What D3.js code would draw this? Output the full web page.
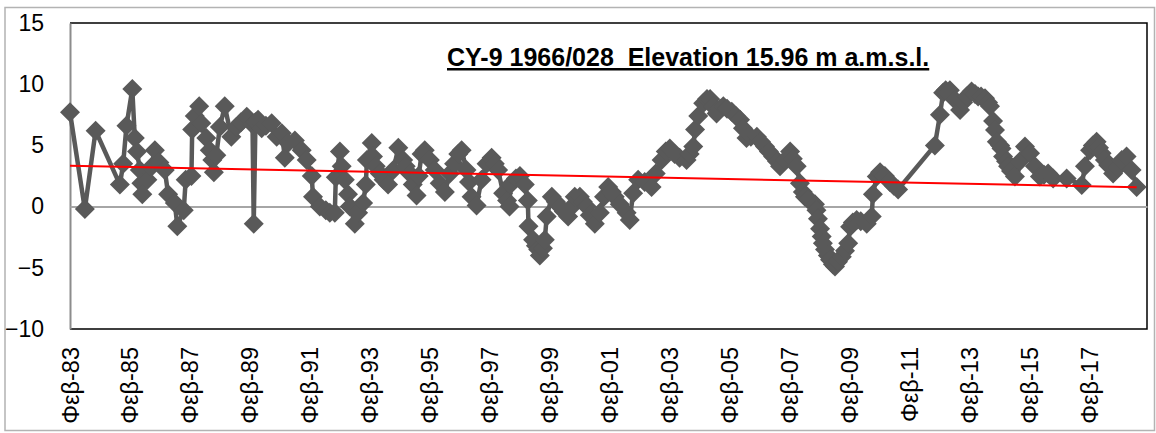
<!DOCTYPE html>
<html>
<head>
<meta charset="utf-8">
<script src="https://cdn.jsdelivr.net/npm/d3@7"></script>
<style>
  html, body { margin: 0; padding: 0; background: #fff; }
  svg { display: block; }
</style>
</head>
<body>
<svg id="chart" width="1156" height="433"></svg>
<script>
// water level readings (m)
const dates = [
  "1983-02-01","1983-08-01","1983-12-10","1984-10-01","1984-11-10","1984-12-20","1985-03-01","1985-04-01","1985-04-28","1985-06-01",
  "1985-06-20","1985-07-01","1985-09-01","1985-10-12","1985-12-01","1986-01-25","1986-04-01","1986-05-12","1986-08-01","1986-09-01",
  "1986-11-18","1986-12-12","1987-02-20","1987-03-01","1987-04-01","1987-05-25","1987-06-20","1987-08-20","1987-10-01","1987-11-01",
  "1987-11-20","1987-12-20","1988-02-01","1988-04-01","1988-06-20","1988-08-20","1988-10-15","1988-12-25","1989-03-05","1989-03-20",
  "1989-04-10","1989-05-12","1989-06-25","1989-08-15","1989-10-25","1989-12-25","1990-02-25","1990-04-03","1990-05-12","1990-08-03",
  "1990-10-25","1990-12-25","1991-02-25","1991-03-12","1991-06-03","1991-08-15","1991-10-03","1991-12-03","1991-12-15","1992-02-03",
  "1992-02-25","1992-04-03","1992-05-12","1992-06-03","1992-08-03","1992-09-12","1992-11-12","1992-12-15","1992-12-28","1993-02-25",
  "1993-03-12","1993-04-15","1993-06-03","1993-07-20","1993-09-12","1993-11-15","1994-01-15","1994-03-15","1994-04-15","1994-06-03",
  "1994-07-10","1994-08-25","1994-09-20","1994-10-25","1994-12-03","1995-02-03","1995-04-03","1995-06-03","1995-08-05","1995-10-05",
  "1995-11-25","1996-01-15","1996-02-25","1996-04-25","1996-05-25","1996-06-25","1996-08-25","1996-10-25","1996-12-25","1997-02-25",
  "1997-04-05","1997-05-15","1997-07-15","1997-09-01","1997-10-01","1997-10-12","1997-12-18","1998-02-05","1998-04-05","1998-05-12",
  "1998-05-20","1998-07-15","1998-08-18","1998-09-15","1998-10-05","1998-11-12","1998-12-05","1998-12-28","1999-02-28","1999-04-18",
  "1999-06-05","1999-07-25","1999-09-15","1999-11-01","1999-12-05","2000-02-05","2000-03-12","2000-04-28","2000-06-05","2000-08-05",
  "2000-10-05","2000-11-25","2001-01-15","2001-03-01","2001-04-05","2001-06-05","2001-08-28","2001-10-05","2001-11-15","2002-01-15",
  "2002-04-05","2002-06-28","2002-08-18","2002-10-28","2002-12-18","2003-02-05","2003-04-05","2003-06-05","2003-08-28","2003-10-05",
  "2003-11-18","2003-12-10","2004-01-18","2004-03-18","2004-05-03","2004-06-10","2004-07-15","2004-08-28","2004-10-10","2004-11-18",
  "2005-01-03","2005-03-01","2005-04-20","2005-06-10","2005-07-15","2005-08-28","2005-10-20","2006-01-01","2006-02-20","2006-04-10",
  "2006-05-28","2006-07-18","2006-09-03","2006-10-10","2006-12-10","2007-02-10","2007-03-15","2007-05-01","2007-06-10","2007-07-15",
  "2007-08-10","2007-09-15","2007-11-01","2007-12-10","2007-12-28","2008-01-15","2008-02-10","2008-03-01","2008-03-15","2008-04-10",
  "2008-05-15","2008-06-10","2008-07-15","2008-08-10","2008-09-15","2008-11-01","2008-12-10","2009-01-18","2009-02-10","2009-03-15",
  "2009-05-01","2009-06-20","2009-09-01","2009-11-01","2009-11-15","2010-01-01","2010-02-10","2010-04-10","2010-06-10","2010-07-28",
  "2010-09-18","2011-12-10","2012-02-10","2012-03-20","2012-04-20","2012-06-10","2012-08-12","2012-10-12","2012-11-18","2013-01-01",
  "2013-03-01","2013-04-12","2013-05-20","2013-06-25","2013-08-12","2013-09-18","2013-10-12","2013-11-18","2013-12-12","2014-01-03",
  "2014-02-12","2014-03-01","2014-03-20","2014-04-25","2014-05-20","2014-06-25","2014-08-12","2014-10-12","2014-12-12","2015-02-12",
  "2015-04-12","2015-06-12","2015-08-01","2015-09-20","2015-11-20","2016-05-03","2016-11-03","2016-12-12","2017-02-12","2017-03-18",
  "2017-05-03","2017-06-01","2017-07-03","2017-08-12","2017-09-20","2017-11-20","2018-01-18","2018-03-05","2018-05-03","2018-07-03",
  "2018-09-03"
];
const levels = [
  7.7, -0.2, 6.2, 1.8, 3.5, 6.6, 9.6, 5.6, 4.5, 3.0,
  1.9, 1.0, 2.2, 3.2, 4.6, 3.6, 3.0, 1.0, 0.3, -1.6,
  -0.3, 2.2, 2.5, 6.3, 7.4, 8.2, 6.8, 5.6, 4.6, 3.8,
  2.8, 4.2, 6.5, 8.2, 5.7, 6.5, 6.9, 7.35, 6.7, -1.4,
  6.9, 7.1, 6.4, 6.6, 6.8, 5.7, 6.0, 4.0, 5.2, 5.4,
  4.6, 3.8, 2.5, 0.8, 0.0, -0.3, -0.5, -0.5, 2.4, 4.5,
  3.3, 2.2, 1.0, 0.0, -1.4, -0.5, 0.3, 1.8, 3.8, 5.2,
  4.1, 3.3, 2.7, 2.2, 1.8, 3.0, 4.8, 3.8, 3.3, 2.7,
  1.8, 0.9, 2.5, 4.3, 4.6, 3.8, 3.0, 1.9, 1.2, 2.7,
  3.5, 4.3, 4.6, 3.0, 2.0, 0.8, 0.1, 2.2, 3.5, 4.0,
  3.5, 3.0, 1.1, 0.5, 0.0, 1.8, 2.3, 2.5, 1.8, 0.5,
  -1.6, -2.7, -3.2, -3.5, -4.0, -3.4, -2.7, -0.8, 0.8, 0.4,
  0.0, -0.4, -0.8, 0.0, 0.8, 0.8, 0.4, 0.0, -0.7, -1.4,
  -0.5, 0.8, 1.6, 1.2, 0.8, 0.2, -0.5, -1.1, 1.1, 2.2,
  2.0, 1.6, 2.7, 3.8, 4.5, 4.75, 4.3, 4.0, 3.8, 4.3,
  4.9, 6.3, 7.4, 8.45, 8.8, 8.8, 8.2, 7.6, 8.0, 8.2,
  8.0, 7.75, 7.4, 7.1, 6.4, 5.6, 5.7, 5.7, 5.3, 4.9,
  4.5, 4.1, 3.7, 3.3, 3.8, 4.5, 3.9, 3.3, 1.9, 1.2,
  0.8, 0.6, 0.4, 0.2, -0.3, -1.0, -1.8, -2.45, -3.0, -3.5,
  -4.0, -4.35, -4.7, -4.9, -4.5, -4.1, -3.6, -3.0, -1.65, -1.3,
  -1.1, -1.2, -1.4, -0.8, 1.0, 2.45, 2.8, 2.5, 2.0, 1.7,
  1.4, 5.0, 7.5, 9.3, 9.5, 9.5, 8.7, 7.9, 8.5, 9.0,
  9.4, 9.2, 9.0, 9.0, 8.85, 8.5, 8.2, 7.0, 6.25, 5.3,
  5.0, 4.75, 4.1, 3.7, 3.3, 2.9, 2.45, 3.7, 4.9, 4.35,
  3.3, 2.45, 2.6, 2.7, 2.3, 2.3, 1.76, 3.3, 4.6, 5.0,
  5.3, 4.8, 4.35, 3.8, 3.4, 2.7, 3.2, 3.8, 4.1, 3.0,
  1.6
];

// linear trend line end points
const trendDates = ["1983-02-01", "2018-09-03"];
const trendLevels = [3.34, 1.58];

const yTicks = [-10, -5, 0, 5, 10, 15];
const xTickDates = ["1983-02-01","1985-02-01","1987-02-01","1989-02-01","1991-02-01","1993-02-01",
  "1995-02-01","1997-02-01","1999-02-01","2001-02-01","2003-02-01","2005-02-01","2007-02-01",
  "2009-02-01","2011-02-01","2013-02-01","2015-02-01","2017-02-01"];
const xDomain = ["1983-02-01", "2019-01-07"];
const title = "CY-9 1966/028  Elevation 15.96 m a.m.s.l.";

const parse = d3.timeParse("%Y-%m-%d");
const font = "'Liberation Sans', Arial, sans-serif";
const grey = "#595959";

const plot = { left: 70, top: 23, right: 1147, bottom: 329 };

const svg = d3.select("#chart");

// chart area frame
svg.append("rect")
    .attr("x", 5).attr("y", 7.5)
    .attr("width", 1149.5).attr("height", 423)
    .attr("fill", "#fff")
    .attr("stroke", "#b3b3b3")
    .attr("stroke-width", 1.5);

const x = d3.scaleTime()
    .domain(xDomain.map(parse))
    .range([plot.left, plot.right]);

const y = d3.scaleLinear()
    .domain([-10, 15])
    .range([plot.bottom, plot.top]);

// plot area border (top, right, bottom black)
svg.append("path")
    .attr("d", `M${plot.left},${plot.top}H${plot.right}V${plot.bottom}H${plot.left}`)
    .attr("fill", "none")
    .attr("stroke", "#000")
    .attr("stroke-width", 1.5);

// value axis
const yAxis = svg.append("g")
    .attr("transform", `translate(${plot.left},0)`)
    .call(d3.axisLeft(y).tickValues(yTicks).tickSize(0).tickPadding(26).tickFormat(d3.format("d")));
yAxis.select(".domain").attr("stroke", "#8c8c8c").attr("stroke-width", 2);
yAxis.selectAll("text")
    .style("font-family", font)
    .style("font-size", "23px")
    .attr("fill", "#000");

// category (date) axis, crossing at 0
const xAxis = svg.append("g")
    .attr("transform", `translate(0,${y(0)})`)
    .call(d3.axisBottom(x)
        .tickValues(xTickDates.map(parse))
        .tickSize(0)
        .tickFormat(d => "Φεβ-" + d3.timeFormat("%y")(d)));
xAxis.select(".domain").attr("stroke", "#a6a6a6").attr("stroke-width", 2);
xAxis.selectAll("text")
    .style("font-family", font)
    .style("font-size", "23.5px")
    .attr("fill", "#000")
    .attr("text-anchor", "end")
    .attr("dominant-baseline", "central")
    .attr("transform", `translate(0,${347 - y(0)}) rotate(-90)`)
    .attr("x", 0).attr("y", 0).attr("dy", null);

// the series
const data = dates.map((d, i) => ({ date: parse(d), v: levels[i] }));

const line = d3.line()
    .x(d => x(d.date))
    .y(d => y(d.v));

svg.append("path")
    .datum(data)
    .attr("d", line)
    .attr("fill", "none")
    .attr("stroke", grey)
    .attr("stroke-width", 4.5)
    .attr("stroke-linejoin", "round");

const r = 10;
svg.append("g").selectAll("path")
    .data(data)
    .join("path")
    .attr("transform", d => `translate(${x(d.date)},${y(d.v)})`)
    .attr("d", `M0,${-r}L${r},0L0,${r}L${-r},0Z`)
    .attr("fill", grey);

// linear trend
const trend = trendDates.map((d, i) => ({ date: parse(d), v: trendLevels[i] }));
svg.append("path")
    .datum(trend)
    .attr("d", line)
    .attr("fill", "none")
    .attr("stroke", "#ff0000")
    .attr("stroke-width", 2);

// title
svg.append("text")
    .attr("x", 447).attr("y", 66)
    .style("font-family", font)
    .style("font-weight", "bold")
    .style("font-size", "25px")
    .style("text-decoration", "underline")
    .style("white-space", "pre")
    .text(title);
</script>
</body>
</html>
